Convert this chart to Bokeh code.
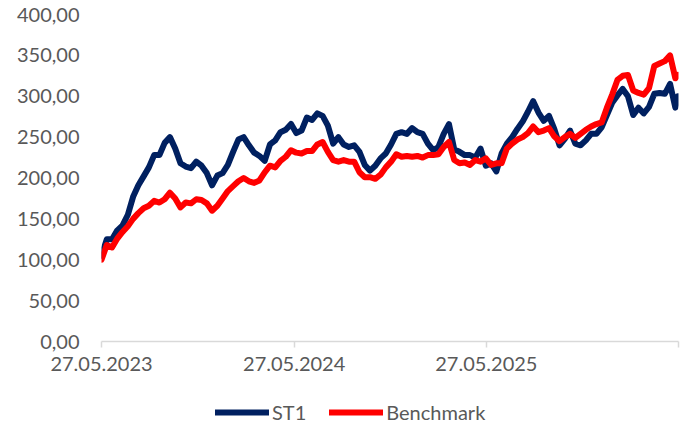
import pandas as pd
from bokeh.plotting import figure
from bokeh.layouts import column
from bokeh.models import Range1d, FixedTicker, Legend, LegendItem, ColumnDataSource
from bokeh.embed import file_html
from bokeh.resources import INLINE

# ---- data ----
axis_start = "2023-05-27"
axis_end = "2026-05-27"
dates = list(pd.date_range("2023-05-27", "2026-05-21", freq="10D")) + [pd.Timestamp("2026-05-26")]

st1 = [105, 125, 125, 136, 142, 155, 177, 191, 202, 213,
       228, 228, 243, 250, 236, 218, 214, 212, 220, 215,
       206, 191, 203, 206, 216, 232, 247, 250, 240, 231,
       227, 221, 241, 246, 256, 259, 266, 255, 258, 274,
       271, 279, 276, 264, 242, 250, 241, 238, 240, 232,
       216, 209, 215, 224, 230, 241, 254, 256, 254, 261,
       256, 254, 242, 234, 238, 254, 266, 235, 232, 228,
       228, 225, 236, 215, 218, 208, 230, 242, 250, 260,
       269, 281, 294, 280, 270, 276, 260, 240, 248, 258,
       242, 240, 246, 254, 254, 262, 277, 292, 301, 309,
       300, 277, 286, 279, 287, 303, 304, 303, 315, 286,
       300]

benchmark = [100, 118, 115, 126, 134, 141, 150, 157, 163, 166,
             172, 170, 174, 182, 175, 164, 170, 169, 174, 173,
             169, 160, 166, 175, 184, 190, 196, 200, 196, 194,
             197, 207, 215, 213, 221, 226, 234, 231, 230, 233,
             233, 241, 244, 232, 222, 220, 222, 220, 220, 207,
             201, 201, 199, 204, 213, 220, 229, 226, 227, 226,
             227, 225, 228, 228, 229, 238, 244, 222, 218, 219,
             216, 222, 220, 224, 216, 218, 218, 236, 242, 247,
             250, 255, 263, 256, 258, 261, 251, 245, 250, 254,
             249, 254, 259, 263, 266, 268, 286, 302, 320, 325,
             326, 307, 304, 302, 310, 337, 340, 343, 350, 322,
             326]

x_tick_dates = ["2023-05-27", "2024-05-27", "2025-05-27", "2026-05-27"]
x_tick_labels = ["27.05.2023", "27.05.2024", "27.05.2025", ""]
y_ticks = [0, 50, 100, 150, 200, 250, 300, 350, 400]
y_tick_labels = ["0,00", "50,00", "100,00", "150,00", "200,00", "250,00", "300,00", "350,00", "400,00"]
series_names = ["ST1", "Benchmark"]
series_colors = ["#002060", "#FF0000"]

# ---- figure ----
def ms(d):
    return pd.Timestamp(d).value / 1e6

FONT = "Lato"
TEXT = "#595959"
LW = 6

p = figure(width=686, height=390, x_axis_type="datetime",
           x_range=Range1d(ms(axis_start), ms(axis_end)),
           y_range=Range1d(0, 400),
           output_backend="svg", toolbar_location=None,
           min_border_left=101, min_border_right=8,
           min_border_top=14, min_border_bottom=49)
p.outline_line_color = None
p.xgrid.visible = False
p.ygrid.visible = False

src = ColumnDataSource(dict(date=dates, st1=st1, bench=benchmark))
r1 = p.line("date", "st1", source=src, line_color=series_colors[0], line_width=LW,
            line_cap="round", line_join="round")
r2 = p.line("date", "bench", source=src, line_color=series_colors[1], line_width=LW,
            line_cap="round", line_join="round")

# y axis
p.yaxis.ticker = FixedTicker(ticks=y_ticks)
p.yaxis.major_label_overrides = {t: l for t, l in zip(y_ticks, y_tick_labels)}
p.yaxis.axis_line_color = None
p.yaxis.major_tick_line_color = None
p.yaxis.minor_tick_line_color = None
p.yaxis.major_tick_out = 0
p.yaxis.major_tick_in = 0
p.yaxis.major_label_standoff = 22

# x axis
xt = [ms(d) for d in x_tick_dates]
p.xaxis.ticker = FixedTicker(ticks=xt)
p.xaxis.major_label_overrides = {t: l for t, l in zip(xt, x_tick_labels)}
p.xaxis.axis_line_color = "#D9D9D9"
p.xaxis.axis_line_width = 1.5
p.xaxis.major_tick_line_color = "#D9D9D9"
p.xaxis.major_tick_line_width = 1.5
p.xaxis.minor_tick_line_color = None
p.xaxis.major_tick_out = 6
p.xaxis.major_tick_in = 0
p.xaxis.major_label_standoff = 9

p.axis.major_label_text_font = FONT
p.axis.major_label_text_font_size = "20px"
p.axis.major_label_text_color = TEXT

# ---- legend strip below ----
lg = figure(width=686, height=38, output_backend="svg", toolbar_location=None,
            x_range=Range1d(0, 1), y_range=Range1d(0, 1),
            x_axis_location=None, y_axis_location=None, min_border=0)
lg.outline_line_color = None
lg.grid.visible = False
d1 = lg.line(x=[5, 6], y=[5, 6], line_color=series_colors[0], line_width=LW, line_cap="round")
d2 = lg.line(x=[5, 6], y=[5, 6], line_color=series_colors[1], line_width=LW, line_cap="round")
legend = Legend(items=[LegendItem(label=series_names[0], renderers=[d1]),
                       LegendItem(label=series_names[1], renderers=[d2])],
                location=(114, 4), orientation="horizontal",
                glyph_width=54, glyph_height=20, label_height=20,
                label_standoff=3, spacing=23, padding=0, margin=0,
                border_line_color=None, background_fill_alpha=0,
                label_text_font=FONT, label_text_font_size="20px",
                label_text_color=TEXT)
lg.add_layout(legend)

open("out.html", "w").write(file_html(column(p, lg, spacing=0), INLINE))
